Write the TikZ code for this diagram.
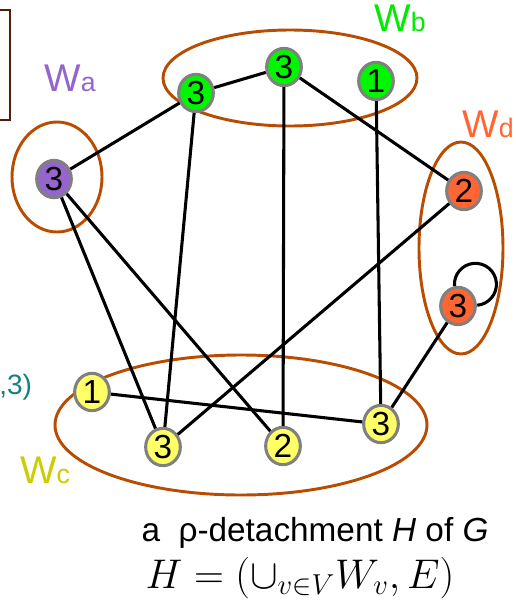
\documentclass[tikz,border=0pt]{standalone}
\usepackage{fontspec}
\setmainfont{Liberation Sans}
\usetikzlibrary{shapes.geometric}
\definecolor{brn}{RGB}{184,76,0}
\definecolor{frameb}{RGB}{80,30,10}
\definecolor{cpur}{RGB}{150,100,205}
\definecolor{cgrn}{RGB}{0,245,0}
\definecolor{cora}{RGB}{255,102,51}
\definecolor{cyel}{RGB}{255,255,102}
\definecolor{lyel}{RGB}{204,204,0}
\definecolor{lgrn}{RGB}{0,235,0}
\definecolor{teal2}{RGB}{20,128,128}
\begin{document}
\begin{tikzpicture}[x=0.75pt,y=0.75pt,
  vtx/.style={ellipse, draw=gray, line width=2.3pt, minimum width=26pt, minimum height=28pt, inner sep=0pt, font=\fontsize{25}{25}\selectfont},
  grp/.style={draw=brn, line width=2.2pt},
  lnk/.style={line width=2.3pt, black},
  lbl/.style={inner sep=0pt, font=\fontsize{29}{29}\selectfont}]
\useasboundingbox (0,0) rectangle (516,-601);
% partial frame at top-left
\draw[frameb, line width=2.2pt] (-5,-10) -- (10,-10) -- (10,-120) -- (-5,-120);
\node[anchor=west, inner sep=0pt, text=teal2, font=\fontsize{21}{21}\selectfont] (tx) at (-1,-387) {,3)};
% group ellipses
\draw[grp] (57,-177) ellipse [x radius=45, y radius=55];
\draw[grp] (290,-78) ellipse [x radius=127, y radius=48];
\draw[grp] (461,-248) ellipse [x radius=42, y radius=106];
\draw[grp] (241,-425) ellipse [x radius=186, y radius=70];
% labels
\node[lbl, text=cpur] (la) at (70,-78) {W{\fontsize{20}{20}\selectfont a}};
\node[lbl, text=lgrn] (lb) at (400,-18) {W{\fontsize{20}{20}\selectfont b}};
\node[lbl, text=cora] (ld) at (488,-124) {W{\fontsize{20}{20}\selectfont d}};
\node[lbl, text=lyel] (lc) at (45,-470) {W{\fontsize{20}{20}\selectfont c}};
% vertices
\node[vtx, fill=cpur] (a3) at (54,-179) {3};
\node[vtx, fill=cgrn] (b1) at (196,-93) {3};
\node[vtx, fill=cgrn] (b2) at (284,-67) {3};
\node[vtx, fill=cgrn] (b3) at (376,-81) {1};
\node[vtx, fill=cora] (d1) at (464,-191) {2};
\node[vtx, fill=cora] (d2) at (458,-306) {3};
\node[vtx, fill=cyel] (c1) at (92,-392) {1};
\node[vtx, fill=cyel] (c2) at (163,-447) {3};
\node[vtx, fill=cyel] (c3) at (283,-446) {2};
\node[vtx, fill=cyel] (c4) at (381,-424) {3};
% edges
\draw[lnk] (a3) -- (b1);
\draw[lnk] (a3) -- (c2);
\draw[lnk] (a3) -- (c3);
\draw[lnk] (b1) -- (c2);
\draw[lnk] (b1) -- (b2);
\draw[lnk] (b2) -- (c3);
\draw[lnk] (b2) -- (d1);
\draw[lnk] (b3) -- (c4);
\draw[lnk] (d1) -- (c2);
\draw[lnk] (d2) -- (c4);
\draw[lnk] (c1) -- (c4);
\draw[lnk] (d2.100) arc[start angle=185, end angle=-85, radius=21];
% caption
\node[inner sep=0pt, font=\fontsize{25}{25}\selectfont] (cap) at (315,-533) {a\ \ ρ-detachment \textit{H} of \textit{G}};
\node[inner sep=0pt, font=\fontsize{24}{24}\selectfont, scale=1.25, transform shape] (form) at (300,-578) {$H=(\cup_{v\in V} W_v, E)$};
\end{tikzpicture}
\end{document}
